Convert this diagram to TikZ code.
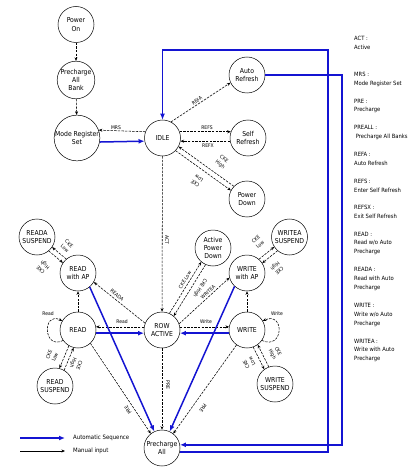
\documentclass[tikz,border=0pt]{standalone}
\usepackage{fontspec}
\setmainfont{DejaVu Sans Condensed}
\usetikzlibrary{arrows.meta}
\definecolor{autoblue}{RGB}{20,20,210}
\begin{document}
\begin{tikzpicture}[x=1pt,y=-1pt,
  st/.style={circle,draw,line width=0.5pt,minimum size=36pt,inner sep=0pt,align=center,font=\fontsize{6.8}{8.3}\selectfont},
  man/.style={draw,line width=0.55pt,dash pattern=on 2.4pt off 1.2pt,-{Stealth[length=3.6pt,width=3pt]}},
  mansolid/.style={draw,line width=0.5pt,-{Stealth[length=3.6pt,width=3pt]}},
  autoseq/.style={draw=autoblue,line width=1.5pt,-{Latex[length=6pt,width=5pt]}},
  lab/.style={font=\fontsize{5}{6.4}\selectfont,inner sep=0pt,align=center},
  deftx/.style={font=\fontsize{5.8}{7}\selectfont,inner sep=0pt,anchor=west,text height=4.5pt,text depth=1.2pt},
  legtx/.style={font=\fontsize{6}{7}\selectfont,inner sep=0pt,anchor=west}]
\useasboundingbox (0,0) rectangle (415,473);
% states
\node[st] (pon) at (76,24.5) {Power\\On};
\node[st] (pab) at (76,80) {Precharge\\All\\Bank};
\node[st] (mrs) at (77,138) {Mode Register\\Set};
\node[st] (idle) at (162.5,138) {IDLE};
\node[st] (ar) at (247,75) {Auto\\Refresh};
\node[st] (sr) at (248,138) {Self\\Refresh};
\node[st] (pd) at (247,199) {Power\\Down};
\node[st] (ras) at (37,237) {READA\\SUSPEND};
\node[st] (rap) at (78,273) {READ\\with AP};
\node[st] (apd) at (213,248) {Active\\Power\\Down};
\node[st] (was) at (289.5,237) {WRITEA\\SUSPEND};
\node[st] (wap) at (247,273) {WRITE\\with AP};
\node[st] (read) at (78,330) {READ};
\node[st] (row) at (162,330) {ROW\\ACTIVE};
\node[st] (write) at (247,330) {WRITE};
\node[st] (rs) at (55,386) {READ\\SUSPEND};
\node[st] (ws) at (275,384) {WRITE\\SUSPEND};
\node[st] (pa) at (162,448) {Precharge\\All};
% manual transitions
\draw[man] (pon) -- (pab);
\draw[man] (pab) -- (mrs);
\draw[man] (idle.160) -- (mrs.20);
\draw[man] (idle.62) -- (ar.205);
\draw[man] (idle.20) -- (sr.160);
\draw[man] (sr.190) -- (idle.-10);
\draw[man] (pd.136) -- (idle.-28);
\draw[man] (idle.-44) -- (pd.152);
\draw[man] (idle) -- (row);
\draw[man] (row.158) -- (rap.-30);
\draw[man] (row.66) -- (apd.230);
\draw[man] (apd.246) -- (row.50);
\draw[man] (row.20) -- (wap.195);
\draw[man] (row.170) -- (read.10);
\draw[man] (row.10) -- (write.170);
\draw[man] (row) -- (pa);
\draw[man] (read) -- (rap);
\draw[man] (write) -- (wap);
\draw[man] (rap.130) -- (ras.-34);
\draw[man] (ras.-50) -- (rap.146);
\draw[man] (wap.49) -- (was.213);
\draw[man] (was.229) -- (wap.33);
\draw[man] (read.-120) -- (rs.76);
\draw[man] (rs.60) -- (read.-104);
\draw[man] (write.-70) -- (ws.126);
\draw[man] (ws.110) -- (write.-54);
\draw[man] (read.-47) -- (pa.128);
\draw[man] (write.235) -- (pa.52);
\draw[man] (read.215) .. controls +(-20,10) and +(-20,-10) .. (read.150);
\draw[man] (write.-35) .. controls +(22,10) and +(22,-10) .. (write.30);
% automatic transitions
\draw[autoseq] (mrs.-10) -- (idle.190);
\draw[autoseq] (read.-10) -- (row.190);
\draw[autoseq] (write.190) -- (row.-10);
\draw[autoseq] (rap.-50) -- (pa.115);
\draw[autoseq] (wap.-133) -- (pa.65);
\coordinate (k1) at (328,300);
\coordinate (k2) at (250,50);
\coordinate (k3) at (342,300);
\draw[autoseq] (pa.-13) -| (k1) |- (k2) -| (idle.north);
\draw[autoseq] (ar.east) -| (k3) |- (pa.10);
% edge labels
\node[lab] (l1) at (116,128) {MRS};
\node[lab,rotate=37] (l2) at (197,101) {REFA};
\node[lab] (l3) at (207,127.5) {REFS};
\node[lab] (l4) at (208,145.5) {REFX};
\node[lab,rotate=-36] (l5) at (222,162) {CKE\\High};
\node[lab,rotate=144] (l6) at (197,181) {CKE\\Low};
\node[lab,rotate=-90] (l7) at (167,240) {ACT};
\node[lab,rotate=-38.6] (l8) at (117,295) {READA};
\node[lab,rotate=42] (l9) at (208,292) {WRITEA};
\node[lab,rotate=58] (l10) at (185,280) {CKE Low};
\node[lab,rotate=-122] (l11) at (200,288) {CKE High};
\node[lab,rotate=41] (l12) at (258,242) {CKE\\Low};
\node[lab,rotate=221] (l13) at (277,268) {CKE\\High};
\node[lab,rotate=-42] (l14) at (67,246) {CKE\\Low};
\node[lab,rotate=138] (l15) at (43,267) {CKE\\High};
\node[lab,rotate=68] (l16) at (52,356) {CKE\\Low};
\node[lab,rotate=-112] (l17) at (76,364) {CKE\\High};
\node[lab,rotate=118] (l18) at (249,363) {CKE\\Low};
\node[lab,rotate=-62] (l19) at (275,353) {CKE\\High};
\node[lab] (l20) at (122,322) {Read};
\node[lab] (l21) at (206,322) {Write};
\node[lab] (l22) at (48,314) {Read};
\node[lab] (l23) at (277,314) {Write};
\node[lab,rotate=-90] (l24) at (168,385) {PRE};
\node[lab,rotate=124] (l25) at (128,410) {PRE};
\node[lab,rotate=235] (l26) at (203,408) {PRE};
% legend
\coordinate (g1) at (20,438);
\coordinate (g2) at (65,438);
\coordinate (g3) at (20,451);
\coordinate (g4) at (65,451);
\draw[autoseq] (g1) -- (g2);
\draw[mansolid] (g3) -- (g4);
\node[legtx] (t1) at (73,438) {Automatic Sequence};
\node[legtx] (t2) at (73,451) {Manual input};
% definitions
\foreach \y/\t in {39/{ACT :},48/{Active},75/{MRS :},84/{Mode Register Set},102/{PRE :},110/{Precharge},128/{PREALL :},137/{\ Precharge All Banks},155/{REFA :},164/{Auto Refresh},182/{REFS :},191/{Enter Self Refresh},208/{REFSX :},217/{Exit Self Refresh},235/{READ :},243/{Read w/o Auto},252/{Precharge},270/{READA :},279/{Read with Auto},288/{Precharge},306/{WRITE :},315/{Write w/o Auto},324/{Precharge},342/{WRITEA :},350/{Write with Auto},359/{Precharge}}
  \node[deftx] (d\y) at (354,\y) {\t};
\end{tikzpicture}
\end{document}
